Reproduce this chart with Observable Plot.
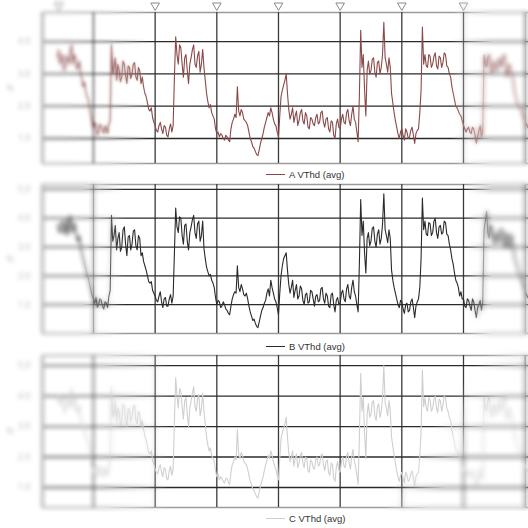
<!DOCTYPE html>
<html><head><meta charset="utf-8">
<script src="https://cdn.jsdelivr.net/npm/d3@7"></script>
<script src="https://cdn.jsdelivr.net/npm/@observablehq/plot@0.6"></script>
<style>
html,body{margin:0;padding:0;background:#fff;}
body{width:528px;height:528px;overflow:hidden;position:relative;font-family:"Liberation Sans",Arial,sans-serif;}
.panel{position:absolute;left:0;width:528px;}
.panel svg{display:block;}
.legend{position:absolute;left:266px;height:12px;display:flex;align-items:center;font-size:9.5px;color:#333;white-space:nowrap;}
.legend .sw{width:19px;height:0;border-top:1.2px solid;margin-right:4px;}
.bl{position:absolute;pointer-events:none;}
</style></head><body>
<div id="p1" class="panel" style="top:0px"></div>
<div id="l1" class="legend" style="top:168px"></div>
<div id="p2" class="panel" style="top:180px"></div>
<div id="l2" class="legend" style="top:340px"></div>
<div id="p3" class="panel" style="top:350px"></div>
<div id="l3" class="legend" style="top:512px"></div>
<script>
// half-hourly time stamps (hours since start of record)
const hours = d3.range(10, 194, 0.5);
const dayTicks = [24, 48, 72, 96, 120, 144, 168, 192];
const markerHours = [10.5, 48, 72, 96, 120, 144, 168];
const seriesNames = ["A VThd (avg)", "B VThd (avg)", "C VThd (avg)"];

const aVthd = [
  3.5, 3.75, 3.3, 3.45, 3.6, 3.1, 3.2, 3.55, 3.5, 3.3, 3.7, 3.9, 3.3, 3.6, 3.5, 3.15, 3.2, 3.4, 3.0, 2.85,
  2.6, 2.75, 2.45, 2.3, 2.2, 1.95, 1.7, 1.45, 1.25, 1.5, 1.4, 1.1, 1.2, 1.45, 1.35, 1.25, 1.15, 1.4, 1.3, 1.15,
  1.45, 1.55, 3.9, 3.0, 3.2, 3.5, 2.8, 3.3, 3.1, 2.75, 2.9, 3.4, 3.3, 2.95, 2.7, 3.25, 3.2, 2.85, 3.0, 3.3,
  3.35, 2.9, 2.8, 3.2, 3.1, 2.7, 2.9, 2.6, 2.4, 2.3, 2.1, 1.9, 1.85, 1.95, 1.65, 1.5, 1.4, 1.25, 1.2, 1.4,
  1.5, 1.3, 1.15, 1.4, 1.35, 1.1, 1.05, 1.3, 1.45, 1.2, 1.4, 2.9, 4.15, 3.6, 3.3, 3.9, 3.8, 3.3, 2.9, 3.5,
  3.6, 3.1, 2.7, 3.3, 3.5, 3.75, 3.9, 3.3, 3.2, 3.55, 3.7, 3.05, 3.3, 3.75, 3.2, 2.8, 2.4, 2.15, 1.95, 2.05,
  1.8, 1.7, 1.6, 1.3, 1.15, 1.2, 1.05, 1.15, 1.1, 1.0, 0.95, 1.1, 1.05, 0.95, 0.9, 1.3, 1.5, 1.6, 1.75, 1.65,
  2.6, 1.85, 1.7, 1.9, 1.8, 1.6, 1.55, 1.5, 1.4, 1.2, 1.0, 0.9, 0.75, 0.7, 0.6, 0.5, 0.47, 0.65, 0.85, 1.0,
  1.15, 1.35, 1.5, 1.65, 1.8, 1.7, 1.95, 1.8, 1.6, 1.45, 1.4, 1.2, 1.05, 1.7, 2.3, 2.5, 2.65, 2.8, 3.0, 2.4,
  1.9, 1.6, 1.75, 1.95, 1.5, 1.7, 1.85, 1.4, 1.55, 1.8, 1.9, 1.55, 1.45, 1.8, 1.7, 1.35, 1.3, 1.65, 1.6, 1.45,
  1.4, 1.65, 1.75, 1.45, 1.5, 1.8, 1.85, 1.5, 1.35, 1.6, 1.65, 1.3, 1.2, 1.55, 1.5, 1.1, 1.0, 1.45, 1.6, 1.35,
  1.3, 1.6, 1.75, 1.5, 1.45, 1.8, 1.9, 1.55, 1.4, 1.75, 2.0, 1.6, 1.5, 1.2, 0.9, 2.4, 4.35, 3.2, 3.6, 2.5,
  1.7, 3.1, 3.4, 3.0, 3.1, 3.45, 3.5, 3.05, 2.9, 3.35, 3.4, 3.0, 3.2, 3.6, 4.6, 3.5, 3.3, 3.05, 3.5, 3.2,
  2.4, 2.1, 1.8, 1.55, 1.35, 1.15, 1.0, 1.2, 1.3, 1.1, 0.95, 1.3, 1.2, 1.0, 1.05, 1.25, 1.35, 1.1, 0.85, 1.15,
  1.25, 1.3, 1.8, 2.5, 4.45, 3.3, 3.6, 3.25, 3.2, 3.6, 3.55, 3.2, 3.3, 3.55, 3.65, 3.25, 3.15, 3.55, 3.5, 3.2,
  3.35, 3.65, 3.6, 3.25, 3.2, 3.0, 2.9, 2.6, 2.4, 2.2, 2.0, 1.95, 1.85, 1.75, 1.7, 1.55, 1.4, 1.3, 1.2, 1.3,
  1.35, 1.2, 1.15, 1.35, 1.3, 1.1, 0.85, 1.05, 1.25, 1.4, 1.05, 1.2, 3.6, 3.3, 3.2, 3.5, 3.6, 3.25, 3.0, 3.3,
  3.4, 3.15, 3.1, 3.35, 3.5, 3.2, 3.3, 3.55, 3.6, 3.1, 2.9, 3.25, 3.3, 3.05, 3.0, 2.7, 2.4, 2.25, 2.1, 2.0,
  1.95, 1.85, 1.75, 1.6, 1.5, 1.45, 1.35, 1.3
];
const bVthd = [
  3.8, 3.55, 3.5, 3.85, 3.9, 3.45, 3.6, 3.95, 3.4, 3.7, 4.1, 3.6, 3.5, 3.85, 3.7, 3.3, 3.2, 3.4, 3.0, 2.8,
  2.6, 2.45, 2.25, 2.05, 1.9, 1.7, 1.5, 1.3, 1.2, 1.05, 1.25, 0.9, 1.0, 1.2, 1.15, 0.95, 0.85, 1.1, 1.05, 0.9,
  1.3, 1.5, 4.1, 3.2, 3.4, 3.75, 2.9, 3.3, 3.5, 2.85, 3.0, 3.6, 3.7, 3.1, 2.7, 3.35, 3.4, 2.9, 3.1, 3.55,
  3.6, 3.05, 2.9, 3.4, 3.3, 2.7, 2.8, 2.5, 2.35, 2.2, 2.0, 1.8, 1.75, 1.8, 1.5, 1.4, 1.3, 1.15, 1.1, 1.3,
  1.45, 1.1, 0.9, 1.2, 1.25, 0.95, 0.95, 1.2, 1.35, 1.05, 1.3, 2.8, 4.35, 3.7, 3.5, 4.05, 4.0, 3.4, 3.1, 3.75,
  3.8, 3.2, 2.9, 3.5, 3.7, 3.95, 4.1, 3.5, 3.3, 3.8, 3.9, 3.2, 3.4, 3.9, 2.95, 2.6, 2.3, 2.15, 2.0, 2.05,
  1.85, 1.75, 1.6, 1.25, 1.0, 1.15, 1.1, 0.9, 0.95, 1.1, 1.0, 0.85, 0.8, 0.7, 0.65, 0.95, 1.2, 1.35, 1.45, 1.4,
  2.35, 1.6, 1.45, 1.7, 1.55, 1.35, 1.3, 1.4, 1.2, 0.95, 0.75, 0.6, 0.45, 0.5, 0.35, 0.25, 0.2, 0.4, 0.6, 0.8,
  0.9, 1.05, 1.15, 1.4, 1.55, 1.3, 1.85, 1.6, 1.4, 1.2, 1.1, 0.9, 0.65, 1.4, 2.0, 2.35, 2.6, 2.7, 2.8, 2.2,
  1.7, 1.4, 1.6, 1.85, 1.25, 1.5, 1.7, 1.2, 1.3, 1.65, 1.55, 1.15, 1.0, 1.35, 1.4, 1.05, 1.1, 1.5, 1.45, 1.2,
  0.95, 1.3, 1.35, 1.1, 1.15, 1.55, 1.6, 1.2, 1.05, 1.4, 1.3, 0.95, 0.9, 1.35, 1.4, 1.0, 0.75, 1.15, 1.25, 1.0,
  1.05, 1.4, 1.5, 1.2, 1.1, 1.55, 1.7, 1.3, 1.2, 1.6, 1.85, 1.45, 1.3, 1.0, 0.75, 2.5, 4.65, 3.4, 3.9, 2.8,
  2.1, 3.3, 3.5, 3.05, 3.2, 3.65, 3.7, 3.2, 3.0, 3.45, 3.6, 3.1, 3.3, 3.8, 4.85, 3.6, 3.4, 3.15, 3.6, 3.3,
  2.2, 1.85, 1.6, 1.4, 1.2, 1.0, 0.9, 1.15, 1.1, 0.85, 0.7, 1.0, 1.05, 0.75, 0.8, 1.1, 1.2, 0.9, 0.55, 0.95,
  1.1, 1.2, 1.6, 2.6, 4.7, 3.6, 3.9, 3.45, 3.4, 3.85, 3.8, 3.4, 3.5, 3.9, 4.0, 3.5, 3.3, 3.7, 3.75, 3.45,
  3.5, 3.9, 3.85, 3.45, 3.4, 3.1, 2.9, 2.6, 2.4, 2.1, 1.85, 1.75, 1.6, 1.3, 1.45, 1.2, 1.2, 0.95, 0.9, 1.2,
  1.15, 0.95, 0.8, 1.2, 1.1, 0.8, 0.55, 0.9, 1.0, 1.15, 0.8, 1.1, 3.6, 3.9, 4.25, 3.5, 3.3, 3.75, 3.7, 3.3,
  3.1, 3.45, 3.5, 3.15, 3.2, 3.65, 3.6, 3.2, 3.0, 3.5, 3.4, 2.95, 3.1, 3.45, 3.3, 2.9, 2.6, 2.45, 2.3, 2.15,
  2.0, 1.9, 1.75, 1.6, 1.45, 1.35, 1.25, 1.2
];
const cVthd = [
  3.8, 4.05, 3.7, 3.8, 3.95, 3.45, 3.5, 3.9, 3.9, 3.6, 4.05, 4.25, 3.6, 3.95, 3.85, 3.5, 3.45, 3.7, 3.3, 3.1,
  2.9, 3.0, 2.7, 2.55, 2.45, 2.2, 1.95, 1.7, 1.5, 1.75, 1.65, 1.35, 1.4, 1.7, 1.6, 1.45, 1.35, 1.65, 1.55, 1.4,
  1.7, 1.8, 4.3, 3.3, 3.5, 3.85, 3.15, 3.6, 3.45, 3.05, 3.2, 3.75, 3.65, 3.25, 3.0, 3.6, 3.55, 3.15, 3.3, 3.65,
  3.7, 3.2, 3.1, 3.5, 3.4, 3.0, 3.2, 2.9, 2.7, 2.55, 2.35, 2.15, 2.1, 2.2, 1.9, 1.75, 1.6, 1.5, 1.45, 1.65,
  1.75, 1.5, 1.35, 1.65, 1.6, 1.3, 1.25, 1.55, 1.7, 1.4, 1.6, 3.2, 4.6, 4.0, 3.6, 4.25, 4.15, 3.65, 3.25, 3.85,
  3.95, 3.4, 3.0, 3.6, 3.85, 4.1, 4.3, 3.65, 3.5, 3.9, 4.05, 3.35, 3.6, 4.1, 3.5, 3.1, 2.65, 2.4, 2.2, 2.3,
  2.05, 1.95, 1.85, 1.55, 1.35, 1.45, 1.25, 1.35, 1.3, 1.2, 1.15, 1.3, 1.3, 1.15, 1.1, 1.5, 1.75, 1.85, 2.0, 1.9,
  2.9, 2.1, 1.95, 2.15, 2.05, 1.85, 1.8, 1.75, 1.6, 1.4, 1.2, 1.1, 0.95, 0.9, 0.8, 0.7, 0.65, 0.85, 1.05, 1.2,
  1.35, 1.55, 1.75, 1.9, 2.05, 1.95, 2.2, 2.05, 1.85, 1.7, 1.6, 1.4, 1.25, 1.95, 2.6, 2.8, 2.95, 3.1, 3.3, 2.65,
  2.15, 1.85, 2.0, 2.2, 1.7, 1.95, 2.1, 1.65, 1.8, 2.05, 2.15, 1.8, 1.65, 2.0, 1.95, 1.55, 1.5, 1.9, 1.85, 1.65,
  1.6, 1.9, 2.0, 1.7, 1.75, 2.05, 2.1, 1.75, 1.55, 1.85, 1.9, 1.5, 1.4, 1.8, 1.75, 1.3, 1.2, 1.65, 1.85, 1.55,
  1.5, 1.85, 2.0, 1.7, 1.65, 2.05, 2.15, 1.8, 1.6, 2.0, 2.25, 1.85, 1.7, 1.4, 1.1, 2.7, 4.75, 3.5, 3.95, 2.8,
  1.95, 3.4, 3.75, 3.3, 3.4, 3.8, 3.85, 3.35, 3.2, 3.65, 3.75, 3.3, 3.5, 3.95, 5.0, 3.8, 3.6, 3.35, 3.85, 3.5,
  2.65, 2.35, 2.05, 1.8, 1.55, 1.35, 1.2, 1.4, 1.5, 1.3, 1.15, 1.5, 1.4, 1.2, 1.25, 1.45, 1.55, 1.3, 1.05, 1.35,
  1.45, 1.5, 2.05, 2.8, 4.85, 3.65, 3.95, 3.6, 3.5, 3.95, 3.9, 3.5, 3.6, 3.9, 4.0, 3.6, 3.45, 3.9, 3.85, 3.5,
  3.7, 4.0, 3.95, 3.6, 3.5, 3.3, 3.2, 2.9, 2.65, 2.45, 2.25, 2.2, 2.1, 2.0, 1.95, 1.75, 1.6, 1.5, 1.4, 1.5,
  1.55, 1.4, 1.35, 1.55, 1.5, 1.3, 1.05, 1.25, 1.45, 1.6, 1.25, 1.4, 3.95, 3.6, 3.5, 3.85, 3.95, 3.55, 3.3, 3.6,
  3.75, 3.45, 3.4, 3.7, 3.85, 3.5, 3.6, 3.9, 3.95, 3.4, 3.2, 3.55, 3.6, 3.35, 3.3, 2.95, 2.65, 2.5, 2.35, 2.25,
  2.2, 2.1, 1.95, 1.8, 1.7, 1.6, 1.55, 1.5
];
const colors = ["#8a4848", "#2a2a2a", "#cfcfcf"];
const yTicksA = [1, 2, 3, 4];
const yTicksB = [1, 2, 3, 4, 5];
const yTicksC = [1, 2, 3, 4, 5];

const xDomain = [4.16, 193.3];

function panel(values, color, yDomain, yTicks, marginTop, height, markers) {
  const data = hours.map((h, i) => ({h, v: values[i]}));
  return Plot.plot({
    width: 528, height, marginLeft: 42, marginRight: 0, marginTop, marginBottom: 5,
    style: {background: "transparent", overflow: "visible"},
    x: {domain: xDomain, axis: null},
    y: {domain: yDomain, axis: null},
    marks: [
      Plot.ruleY([yDomain[1]], {stroke: "#9a9a9a", strokeWidth: 1.5}),
      Plot.ruleY([yDomain[0]], {stroke: "#9a9a9a", strokeWidth: 1.5}),
      Plot.ruleX(dayTicks, {stroke: "#3a3a3a", strokeWidth: 1.3}),
      Plot.ruleY(yTicks, {stroke: "#2a2a2a", strokeWidth: 1.3}),
      Plot.ruleX([xDomain[0]], {stroke: "#b5b5b5", strokeWidth: 3}),
      Plot.text(yTicks, {y: d => d, frameAnchor: "left", dx: -12, text: d => d.toFixed(1), textAnchor: "end", fill: "#c4c4c4", fontSize: 9}),
      Plot.text(["%"], {frameAnchor: "left", dx: -36, fill: "#c8c8c8", fontSize: 9}),
      Plot.line(data, {x: "h", y: "v", stroke: color, strokeWidth: 1.1}),
      markers ? Plot.dot(markers, {x: d => d, frameAnchor: "top", dy: -7, symbol: "triangle", rotate: 180, r: 3.2, stroke: "#8a8a8a", strokeWidth: 1, fill: "white"}) : null
    ]
  });
}

document.getElementById("p1").append(panel(aVthd, colors[0], [0.226, 4.9], yTicksA, 12, 168, markerHours));
document.getElementById("p2").append(panel(bVthd, colors[1], [0, 5.17], yTicksB, 4, 158, null));
document.getElementById("p3").append(panel(cVthd, colors[2], [0.344, 5.33], yTicksC, 5, 162, null));

[["l1", 0], ["l2", 1], ["l3", 2]].forEach(([id, i]) => {
  const el = document.getElementById(id);
  const sw = document.createElement("span"); sw.className = "sw"; sw.style.borderTopColor = colors[i];
  const tx = document.createElement("span"); tx.textContent = seriesNames[i];
  el.append(sw, tx);
});

// depth-of-field blur overlays (edges placed in the white gaps between panels)
const blurs = [
  [0, 0, 150, 176, 1.6, "linear-gradient(to right,#000 0%,#000 70%,transparent 100%)"],
  [0, 0, 105, 176, 1.8, "linear-gradient(to right,#000 0%,#000 60%,transparent 100%)"],
  [450, 0, 78, 176, 2.2, "linear-gradient(to right,transparent 0%,#000 55%)"],
  [0, 176, 125, 169, 2.2, "linear-gradient(to right,#000 0%,#000 65%,transparent 100%)"],
  [465, 176, 63, 169, 2.4, "linear-gradient(to right,transparent 0%,#000 45%)"],
  [0, 345, 170, 183, 2.2, "linear-gradient(to right,#000 0%,#000 60%,transparent 100%)"],
  [385, 345, 143, 166, 2.4, "linear-gradient(125deg,transparent 40%,#000 62%)"]
];
blurs.forEach(([x, y, w, h, b, m]) => {
  const d = document.createElement("div");
  d.className = "bl";
  Object.assign(d.style, {left: x + "px", top: y + "px", width: w + "px", height: h + "px"});
  d.style.backdropFilter = `blur(${b}px)`;
  d.style.webkitBackdropFilter = `blur(${b}px)`;
  d.style.maskImage = m;
  d.style.webkitMaskImage = m;
  document.body.append(d);
});
</script>
</body></html>
